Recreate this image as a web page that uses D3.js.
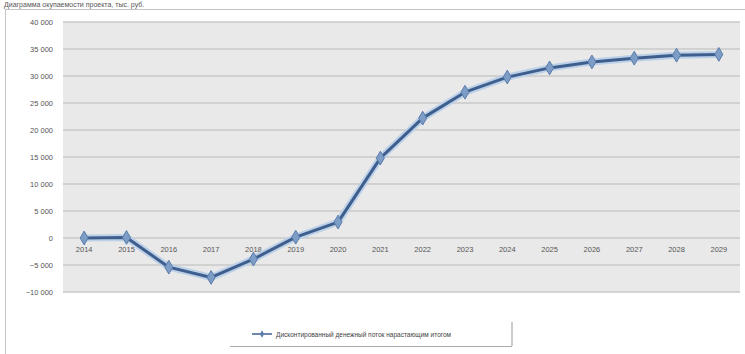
<!DOCTYPE html>
<html>
<head>
<meta charset="utf-8">
<script src="https://cdn.jsdelivr.net/npm/d3@7"></script>
<style>
  html, body { margin: 0; padding: 0; background: #fff; }
  svg { display: block; font-family: "Liberation Sans", Arial, sans-serif; }
</style>
</head>
<body>
<svg id="chart" width="745" height="354"></svg>
<script>
// Years on the category axis
const years = ["2014", "2015", "2016", "2017", "2018", "2019", "2020", "2021",
               "2022", "2023", "2024", "2025", "2026", "2027", "2028", "2029"];
// Discounted cash flow, cumulative, thousand roubles
const cumulativeDCF = [0, 100, -5400, -7300, -3900, 150, 2950, 14800,
                       22200, 27000, 29800, 31500, 32600, 33300, 33850, 34000];
// Value axis ticks
const yTicks = [40000, 35000, 30000, 25000, 20000, 15000, 10000, 5000, 0, -5000, -10000];

const titleText = "Диаграмма окупаемости проекта, тыс. руб.";
const legendText = "Дисконтированный денежный поток нарастающим итогом";

const svg = d3.select("#chart");
const W = 745, H = 354;
const plot = { left: 63, right: 740, top: 22, bottom: 292 };

// chart frame
svg.append("rect").attr("x", 5.5).attr("y", 9.5).attr("width", W + 10).attr("height", H)
  .attr("fill", "#fff").attr("stroke", "#c4c4c4").attr("stroke-width", 1);

// title
svg.append("text").attr("x", 4).attr("y", 7).attr("font-size", 7)
  .attr("fill", "#555").text(titleText);

const x = d3.scaleBand().domain(years).range([plot.left, plot.right]);
const y = d3.scaleLinear().domain([-10000, 40000]).range([plot.bottom, plot.top]);

// plot area background
svg.append("rect").attr("x", plot.left).attr("y", plot.top)
  .attr("width", plot.right - plot.left).attr("height", plot.bottom - plot.top)
  .attr("fill", "#e9e9e9");

// horizontal grid
svg.append("g").selectAll("line").data(yTicks).join("line")
  .attr("x1", plot.left).attr("x2", plot.right)
  .attr("y1", d => y(d)).attr("y2", d => y(d))
  .attr("stroke", "#c9c9c9").attr("stroke-width", 1.6);

// value axis labels
const fmt = v => v === 0 ? "0" : d3.format(",")(v).replace(/,/g, "\u00a0");
const yAxis = d3.axisLeft(y).tickValues(yTicks).tickSize(0).tickPadding(10).tickFormat(fmt);
svg.append("g").attr("transform", `translate(${plot.left},0)`).call(yAxis)
  .call(g => g.select(".domain").remove())
  .call(g => g.selectAll("text").attr("font-size", 7.5).attr("fill", "#555")
    .attr("font-family", "\"Liberation Sans\", Arial, sans-serif"));

// category axis labels sit just below the zero line
const xAxis = d3.axisBottom(x).tickSize(0).tickPadding(9);
svg.append("g").attr("transform", `translate(0,${y(0)})`).call(xAxis)
  .call(g => g.select(".domain").remove())
  .call(g => g.selectAll("text").attr("font-size", 7.5).attr("fill", "#555")
    .attr("font-family", "\"Liberation Sans\", Arial, sans-serif"));

// series line with soft highlight
const pts = years.map((yr, i) => [x(yr) + x.bandwidth() / 2, y(cumulativeDCF[i])]);
const line = d3.line();
svg.append("path").attr("d", line(pts)).attr("fill", "none")
  .attr("stroke", "#bcd0e8").attr("stroke-width", 7).attr("stroke-linejoin", "round");
svg.append("path").attr("d", line(pts)).attr("fill", "none")
  .attr("stroke", "#3e5f8e").attr("stroke-width", 3).attr("stroke-linejoin", "round");

// markers
const marker = d3.symbol().type(d3.symbolDiamond).size(55);
svg.append("g").selectAll("path").data(pts).join("path")
  .attr("transform", d => `translate(${d[0]},${d[1]})`)
  .attr("d", marker)
  .attr("fill", "#7d9dc6").attr("stroke", "#5a7dab").attr("stroke-width", 1);

// legend
const lg = svg.append("g").attr("transform", "translate(230,322)");
lg.append("line").attr("x1", 282).attr("x2", 282).attr("y1", 0).attr("y2", 24)
  .attr("stroke", "#999").attr("stroke-width", 1);
lg.append("line").attr("x1", 0).attr("x2", 282).attr("y1", 24.5).attr("y2", 24.5)
  .attr("stroke", "#aaa").attr("stroke-width", 1);
lg.append("line").attr("x1", 22).attr("x2", 42).attr("y1", 12).attr("y2", 12)
  .attr("stroke", "#3e5f8e").attr("stroke-width", 1.5);
lg.append("path").attr("transform", "translate(32,12)")
  .attr("d", d3.symbol().type(d3.symbolDiamond).size(16)).attr("fill", "#5a7dab");
lg.append("text").attr("x", 46).attr("y", 14.5).attr("font-size", 6.5).attr("fill", "#444")
  .text(legendText);
</script>
</body>
</html>
